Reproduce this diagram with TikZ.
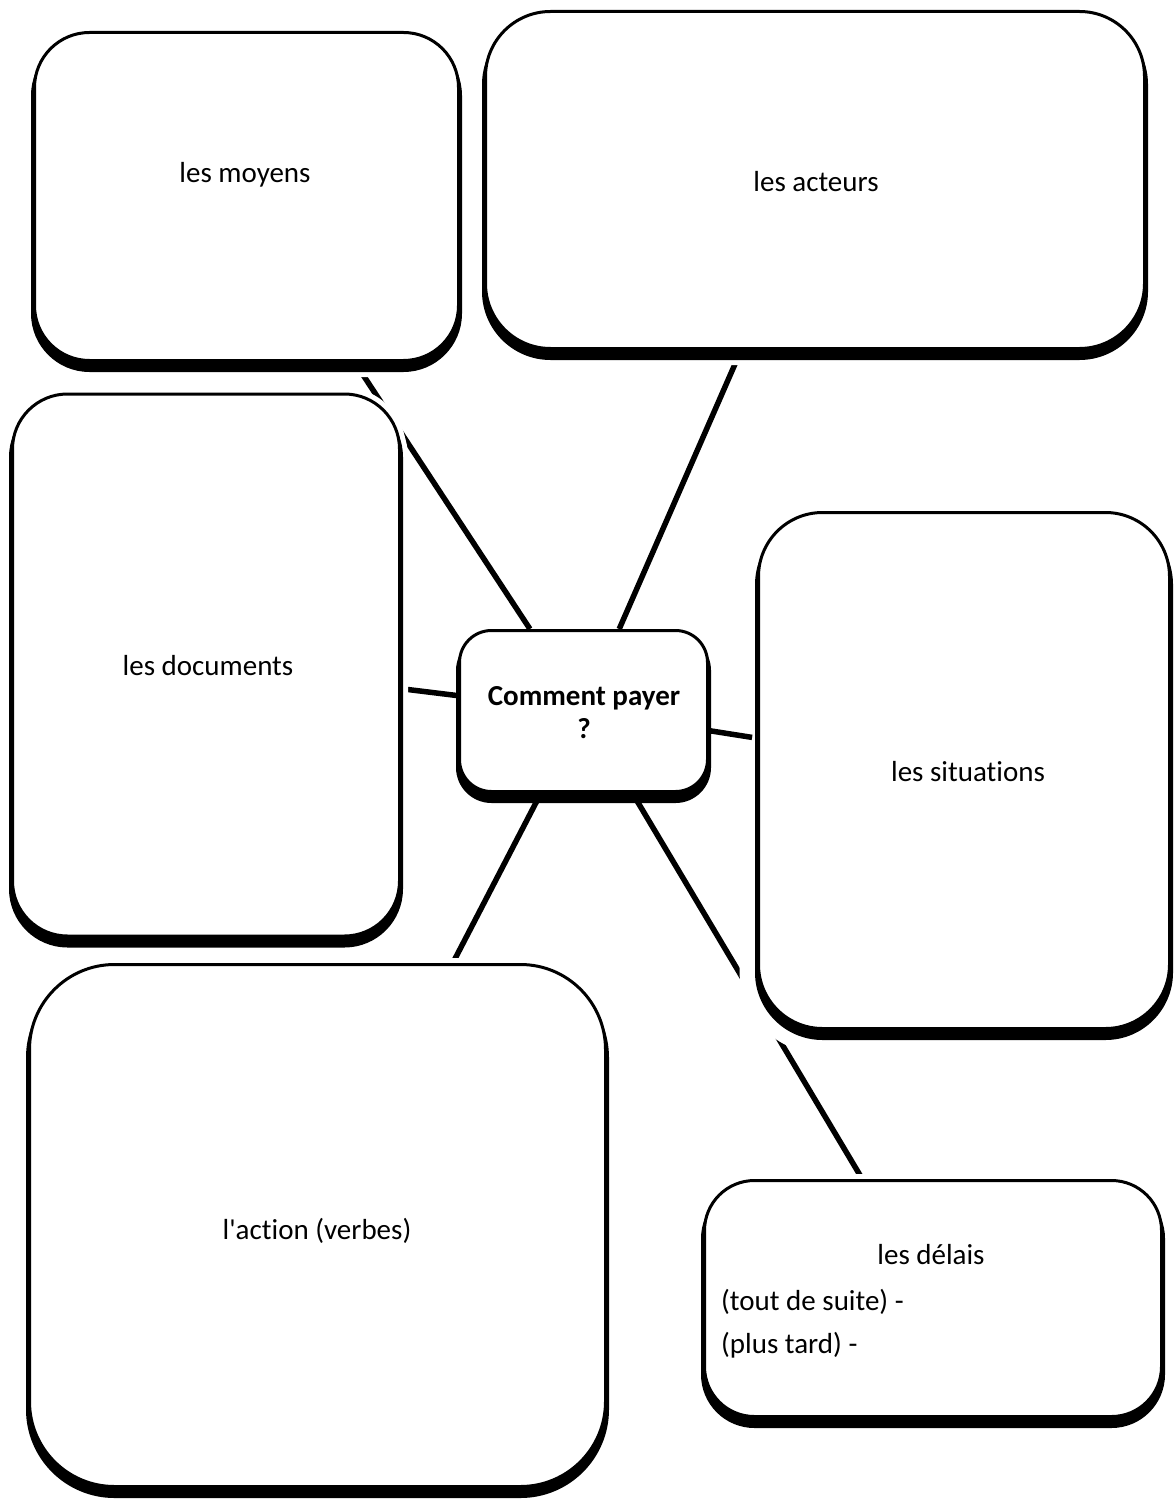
\documentclass[tikz,border=0pt]{standalone}
\usepackage{fontspec}
\setmainfont{Carlito}[Ligatures={TeXOff,CommonOff}]
\usetikzlibrary{shadows,backgrounds}
\begin{document}
\begin{tikzpicture}[x=1pt,y=-1pt,
  boxbase/.style={draw=black, line width=3pt, fill=white, rounded corners=#1, inner sep=0pt},
  box/.style={boxbase=#1,
    general shadow={shadow yshift=-8pt, draw=white, fill=white, line width=17pt, opacity=1},
    general shadow={draw=white, fill=white, line width=13pt, opacity=1},
    general shadow={shadow yshift=-8pt, draw=black, fill=black, line width=7pt, opacity=1}},
  widehalo/.style={general shadow={shadow yshift=-6pt, draw=white, fill=white, line width=38pt, opacity=1}},
  cbox/.style={boxbase=#1,
    general shadow={shadow yshift=-8pt, draw=black, fill=black, line width=7pt, opacity=1}},
  conn/.style={draw=black, line width=5.5pt},
  lbl/.style={font=\fontsize{29}{33}\selectfont, inner sep=0pt}]
\useasboundingbox (0,0) rectangle (1173,1503);
\node[box=55pt, minimum width=424pt, minimum height=328pt] (moy) at (246.5,196.5) {};
\node[box=65pt, minimum width=659pt, minimum height=337pt] (act) at (815,180) {};
\node[box=55pt, minimum width=387pt, minimum height=542pt] (doc) at (206,665) {};
\node[widehalo, box=64pt, minimum width=411pt, minimum height=516pt] (sit) at (964,770.5) {};
\node[box=50pt, minimum width=457pt, minimum height=236pt] (del) at (933,1298.5) {};
\node[box=85pt, minimum width=576pt, minimum height=522pt] (acn) at (317.5,1225.5) {};
\node[cbox=32pt, minimum width=248pt, minimum height=161pt] (cp) at (583.5,711) {};
\node[lbl] (tmoy) at (245,175) {les moyens};
\node[lbl] (tact) at (816,182) {les acteurs};
\node[lbl] (tdoc) at (208,666) {les documents};
\node[lbl, align=center, font=\fontsize{29}{33}\selectfont\bfseries] (tcp) at (584,713) {Comment payer\\?};
\node[lbl] (tsit) at (968,772) {les situations};
\node[lbl] (tdel) at (931,1255) {les délais};
\node[lbl, anchor=west] (tdel1) at (721,1302) {(tout de suite) -};
\node[lbl, anchor=west] (tdel2) at (721,1345) {(plus tard) -};
\node[lbl] (tacn) at (317,1231) {l'action (verbes)};
\draw[conn, shorten >=5pt] (cp) -- (sit);
\begin{pgfonlayer}{background}
\fill[white] (0,0) rectangle (1173,1503);
\draw[conn] (cp) -- (moy);
\draw[conn] (cp) -- (act);
\draw[conn] (cp) -- (doc);
\draw[conn] (cp) -- (acn);
\draw[conn] (cp) -- (del);
\end{pgfonlayer}
\end{tikzpicture}
\end{document}
